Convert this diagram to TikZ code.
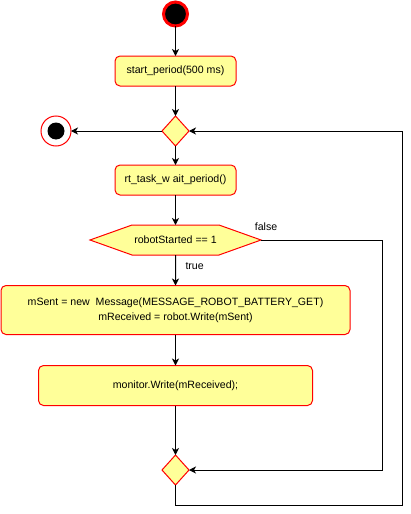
\documentclass[tikz,border=0pt]{standalone}
\usepackage{fontspec}
\setmainfont{Liberation Sans}
\usepackage{tikz}
\usetikzlibrary{arrows.meta,positioning,shapes.geometric,shapes.symbols}
\definecolor{actfill}{HTML}{FFFF99}
\definecolor{actline}{HTML}{FF0000}

\begin{document}
\begin{tikzpicture}[
x=1pt, y=-1pt, line width=1pt,
font=\fontsize{10.6}{15}\selectfont,
action/.style={draw=actline, fill=actfill, rounded corners=5pt, align=center, inner sep=0pt, outer sep=0pt, minimum width=121pt, minimum height=30pt},
decision/.style={diamond, draw=actline, fill=actfill, inner sep=0pt, outer sep=0pt, minimum width=27pt, minimum height=30pt},
guard/.style={signal, signal to=east and west, signal pointer angle=39.3, draw=actline, fill=actfill, inner sep=0pt, outer sep=0pt, minimum width=171pt, minimum height=30pt},
initial/.style={circle, fill=black, draw=actline, line width=3pt, minimum size=24pt, inner sep=0pt, outer sep=0pt},
final/.style={circle, fill=white, draw=actline, minimum size=30pt, inner sep=0pt, outer sep=0pt,
  path picture={\fill[black] (path picture bounding box.center) circle (8.5pt);}},
arr/.style={-{Stealth[length=7pt,width=7pt,inset=2pt]}, line width=1pt}
]
\useasboundingbox (0,0) rectangle (410,514);
\node[initial] (start) at (175.5,14) {};
\node[action, below=30pt of start] (period) {start\_period(500 ms)};
\node[decision, below=30pt of period] (loop) {};
\node[final, left=91pt of loop] (stop) {};
\node[action, below=19pt of loop] (wait) {rt\_task\_w ait\_period()};
\node[guard, below=30pt of wait] (started) {robotStarted == 1};
\node[action, below=30.5pt of started, minimum width=349pt, minimum height=49pt] (battery)
{mSent = new\ \ Message(MESSAGE\_ROBOT\_BATTERY\_GET)\\mReceived = robot.Write(mSent)};
\node[action, below=31pt of battery, minimum width=274pt, minimum height=40pt] (send) {monitor.Write(mReceived);};
\node[decision, below=49.5pt of send] (merge) {};
\coordinate (falsecorner) at (382,0);
\coordinate (loopcorner) at (402,505);

\draw[arr] (start) -- (period);
\draw[arr] (period) -- (loop);
\draw[arr] (loop) -- (stop);
\draw[arr] (loop) -- (wait);
\draw[arr] (wait) -- (started);
\draw[arr] (started) -- node[pos=0.37, right, inner sep=1pt, xshift=8.5pt]{true} (battery);
\draw[arr] (battery) -- (send);
\draw[arr] (send) -- (merge);
\draw[arr] (started.east) -- node[at start, anchor=south, fill=white, inner sep=1pt, xshift=5pt, yshift=8pt]{false} (started.east -| falsecorner) |- (merge.east);
\draw[arr] (merge.south) |- (loopcorner) |- (loop.east);
\end{tikzpicture}
\end{document}
